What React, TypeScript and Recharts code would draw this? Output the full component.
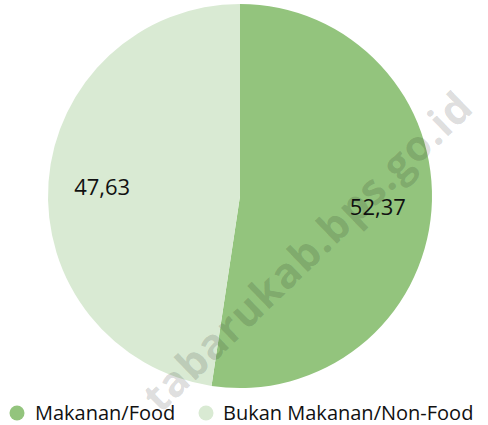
import React from "react";
import { PieChart, Pie, Cell } from "recharts";

const categories = ["Makanan/Food", "Bukan Makanan/Non-Food"];
const values = [52.37, 47.63];
const valueLabels = ["52,37", "47,63"];
const colors = ["#93c47d", "#d9ead3"];
const watermark = "tabarukab.bps.go.id";

const data = categories.map((name, i) => ({ name, value: values[i], label: valueLabels[i] }));

const RAD = Math.PI / 180;
const FONT = "'Open Sans', 'Noto Sans', sans-serif";

const renderLabel = (props: any) => {
  const { cx, cy, midAngle, outerRadius, index } = props;
  const r = outerRadius * 0.72;
  const x = cx + r * Math.cos(-midAngle * RAD);
  const y = cy + r * Math.sin(-midAngle * RAD);
  return (
    <text
      x={x}
      y={y}
      textAnchor="middle"
      dominantBaseline="central"
      fill="#111"
      fontSize={22}
      fontFamily={FONT}
    >
      {data[index].label}
    </text>
  );
};

export default function App() {
  return (
    <div style={{ position: "absolute", left: 0, top: 0, width: 488, height: 425, background: "#fff", fontFamily: FONT }}>
      <PieChart width={488} height={425} margin={{ top: 0, right: 0, bottom: 0, left: 0 }}>
        <Pie
          data={data}
          dataKey="value"
          nameKey="name"
          cx={240}
          cy={196}
          outerRadius={192}
          startAngle={90}
          endAngle={-270}
          stroke="none"
          label={renderLabel}
          labelLine={false}
          isAnimationActive={false}
        >
          {data.map((d, i) => (
            <Cell key={d.name} fill={colors[i]} />
          ))}
        </Pie>
      </PieChart>
      <svg width={488} height={425} style={{ position: "absolute", left: 0, top: 0, pointerEvents: "none" }}>
        <circle cx={17} cy={413} r={7.5} fill={colors[0]} />
        <text x={35} y={420} fontSize={20} fontFamily={FONT} fill="#111">{categories[0]}</text>
        <circle cx={206} cy={413} r={7.5} fill={colors[1]} />
        <text x={223} y={420} fontSize={20} fontFamily={FONT} fill="#111">{categories[1]}</text>
        <text
          x={318}
          y={262}
          textAnchor="middle"
          fontSize={42}
          fontWeight={700}
          fontFamily={FONT}
          letterSpacing={1}
          fill="#000"
          fillOpacity={0.14}
          transform="rotate(-44 318 262)"
        >
          {watermark}
        </text>
      </svg>
    </div>
  );
}
